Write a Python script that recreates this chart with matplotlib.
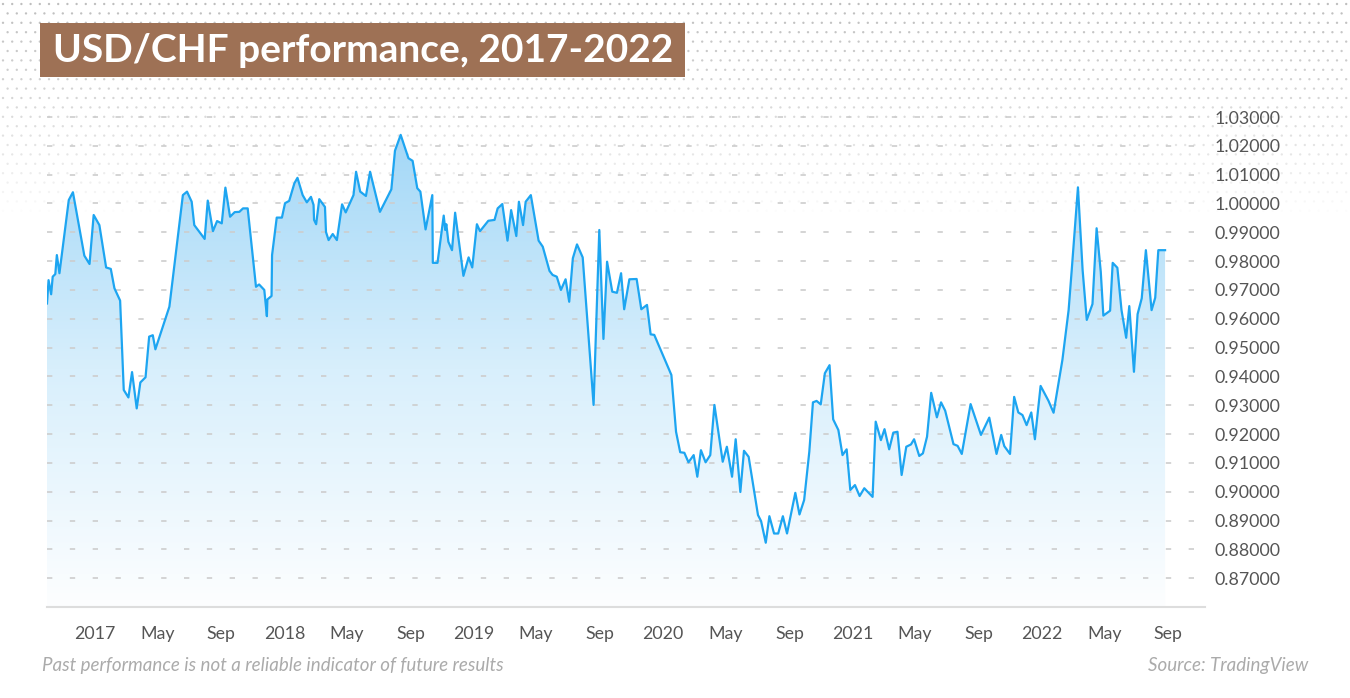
import matplotlib
matplotlib.use("Agg")
import matplotlib.pyplot as plt
import matplotlib.dates as mdates
from matplotlib.colors import LinearSegmentedColormap, to_rgba
from matplotlib.patches import Rectangle
import numpy as np
import pandas as pd

plt.rcParams['font.family'] = ['Lato', 'DejaVu Sans']

title = "USD/CHF performance, 2017-2022"
note = "Past performance is not a reliable indicator of future results"
source = "Source: TradingView"

dates = [
    "2016-09-30", "2016-10-03", "2016-10-08", "2016-10-11", "2016-10-16", "2016-10-19", "2016-10-24",
    "2016-11-11", "2016-11-19", "2016-12-11", "2016-12-21", "2016-12-29",
    "2017-01-09", "2017-01-22", "2017-01-31", "2017-02-07", "2017-02-18", "2017-02-25", "2017-03-06",
    "2017-03-13", "2017-03-22", "2017-03-29", "2017-04-08", "2017-04-15", "2017-04-22", "2017-04-27",
    "2017-05-24", "2017-06-19", "2017-06-27", "2017-07-06", "2017-07-11", "2017-07-31", "2017-08-06",
    "2017-08-16", "2017-08-24", "2017-09-02", "2017-09-09", "2017-09-18", "2017-09-27", "2017-10-06",
    "2017-10-13", "2017-10-22", "2017-11-07", "2017-11-13", "2017-11-23", "2017-11-28", "2017-11-29",
    "2017-12-07", "2017-12-08", "2017-12-17", "2017-12-27",
    "2018-01-02", "2018-01-10", "2018-01-20", "2018-01-26", "2018-02-05", "2018-02-13", "2018-02-21",
    "2018-02-26", "2018-02-27", "2018-03-03", "2018-03-09", "2018-03-20", "2018-03-22", "2018-03-27",
    "2018-04-04", "2018-04-12", "2018-04-22", "2018-04-29", "2018-05-14", "2018-05-19", "2018-05-27",
    "2018-06-07", "2018-06-15", "2018-07-04", "2018-07-26", "2018-08-02", "2018-08-13", "2018-08-28",
    "2018-09-05", "2018-09-14", "2018-09-20", "2018-09-30", "2018-10-13", "2018-10-14", "2018-10-23",
    "2018-11-04", "2018-11-07", "2018-11-09", "2018-11-13", "2018-11-20", "2018-11-26", "2018-12-12",
    "2018-12-22", "2018-12-29",
    "2019-01-07", "2019-01-13", "2019-01-29", "2019-02-10", "2019-02-16", "2019-02-25", "2019-03-07",
    "2019-03-14", "2019-03-24", "2019-03-29", "2019-04-06", "2019-04-11", "2019-04-21", "2019-05-06",
    "2019-05-14", "2019-05-27", "2019-06-02", "2019-06-10", "2019-06-18", "2019-06-27", "2019-07-04",
    "2019-07-11", "2019-07-19", "2019-07-30", "2019-08-20", "2019-08-31", "2019-09-08", "2019-09-15",
    "2019-09-25", "2019-10-04", "2019-10-12", "2019-10-18", "2019-10-28", "2019-11-11", "2019-11-20",
    "2019-12-01", "2019-12-08", "2019-12-15",
    "2020-01-17", "2020-01-26", "2020-02-03", "2020-02-11", "2020-02-19", "2020-02-29", "2020-03-07",
    "2020-03-14", "2020-03-23", "2020-04-01", "2020-04-09", "2020-04-25", "2020-05-03", "2020-05-13",
    "2020-05-20", "2020-05-29", "2020-06-05", "2020-06-14", "2020-07-02", "2020-07-08", "2020-07-17",
    "2020-07-24", "2020-08-02", "2020-08-10", "2020-08-19", "2020-08-27", "2020-09-12", "2020-09-20",
    "2020-09-29", "2020-10-09", "2020-10-16", "2020-10-23", "2020-10-31", "2020-11-08", "2020-11-17",
    "2020-11-24", "2020-12-04", "2020-12-12", "2020-12-20", "2020-12-27",
    "2021-01-05", "2021-01-14", "2021-01-23", "2021-02-08", "2021-02-14", "2021-02-24", "2021-03-03",
    "2021-03-12", "2021-03-20", "2021-03-28", "2021-04-05", "2021-04-14", "2021-04-23", "2021-04-29",
    "2021-05-09", "2021-05-16", "2021-05-24", "2021-06-01", "2021-06-12", "2021-06-20", "2021-06-28",
    "2021-07-14", "2021-07-22", "2021-07-30", "2021-08-16", "2021-09-05", "2021-09-21", "2021-10-05",
    "2021-10-14", "2021-10-20", "2021-10-31", "2021-11-08", "2021-11-16", "2021-11-24", "2021-12-02",
    "2021-12-11", "2021-12-18", "2021-12-29",
    "2022-01-13", "2022-01-23", "2022-02-09", "2022-02-21", "2022-02-27", "2022-03-11", "2022-03-20",
    "2022-03-28", "2022-04-08", "2022-04-16", "2022-04-24", "2022-04-29", "2022-05-12", "2022-05-17",
    "2022-05-26", "2022-06-03", "2022-06-12", "2022-06-18", "2022-06-27", "2022-07-04", "2022-07-12",
    "2022-07-20", "2022-07-31", "2022-08-07", "2022-08-13", "2022-08-26",
]

rates = [
    0.9653, 0.9734, 0.9685, 0.9746, 0.9755, 0.9821, 0.9758, 1.0012, 1.0039, 0.9819, 0.9790, 0.9960,
    # 2017
    0.9925, 0.9778, 0.9773, 0.9706, 0.9663, 0.9353, 0.9327, 0.9415, 0.9289, 0.9379,
    0.9397, 0.9538, 0.9543, 0.9494, 0.9642, 1.0029, 1.0041, 1.0006, 0.9925, 0.9877,
    1.0010, 0.9904, 0.9939, 0.9931, 1.0055, 0.9954, 0.9970, 0.9971, 0.9983, 0.9983,
    0.9711, 0.9719, 0.9700, 0.9609, 0.9667, 0.9679, 0.9821, 0.9951, 0.9951,
    # 2018
    1.0001, 1.0009, 1.0070, 1.0089, 1.0029, 1.0004, 1.0023, 0.9995, 0.9943, 0.9928,
    1.0015, 0.9988, 0.9901, 0.9873, 0.9894, 0.9873, 0.9997, 0.9969, 1.0029, 1.0110,
    1.0041, 1.0026, 1.0110, 0.9971, 1.0049, 1.0183, 1.0238, 1.0157, 1.0148, 1.0053,
    1.0041, 0.9910, 1.0029, 0.9794, 0.9794, 0.9958, 0.9908, 0.9928, 0.9867, 0.9838,
    0.9968, 0.9749, 0.9813, 0.9778,
    # 2019
    0.9928, 0.9904, 0.9940, 0.9943, 0.9983, 0.9998, 0.9871, 0.9977, 0.9887, 1.0006,
    0.9925, 1.0006, 1.0029, 0.9871, 0.9850, 0.9766, 0.9752, 0.9746, 0.9700, 0.9737,
    0.9659, 0.9810, 0.9858, 0.9813, 0.9301, 0.9908, 0.9530, 0.9798, 0.9694, 0.9690,
    0.9758, 0.9633, 0.9737, 0.9738, 0.9633, 0.9648, 0.9546, 0.9544,
    # 2020
    0.9405, 0.9208, 0.9137, 0.9135, 0.9102, 0.9127, 0.9052, 0.9144, 0.9102, 0.9127,
    0.9301, 0.9104, 0.9156, 0.9052, 0.9182, 0.8999, 0.9142, 0.9121, 0.8919, 0.8898,
    0.8823, 0.8915, 0.8855, 0.8855, 0.8915, 0.8855, 0.8996, 0.8921, 0.8971, 0.9139,
    0.9310, 0.9315, 0.9303, 0.9411, 0.9439, 0.9251, 0.9214, 0.9127, 0.9147, 0.9006,
    # 2021
    0.9023, 0.8985, 0.9012, 0.8982, 0.9243, 0.9179, 0.9217, 0.9147, 0.9205, 0.9208,
    0.9058, 0.9156, 0.9164, 0.9182, 0.9124, 0.9133, 0.9191, 0.9343, 0.9258, 0.9310,
    0.9281, 0.9165, 0.9159, 0.9131, 0.9304, 0.9197, 0.9257, 0.9131, 0.9197, 0.9158,
    0.9131, 0.9329, 0.9275, 0.9266, 0.9231, 0.9275, 0.9182, 0.9367,
    # 2022
    0.9316, 0.9274, 0.9457, 0.9630, 0.9769, 1.0056, 0.9769, 0.9596, 0.9651, 0.9914,
    0.9763, 0.9611, 0.9628, 0.9794, 0.9777, 0.9630, 0.9534, 0.9644, 0.9416, 0.9616,
    0.9671, 0.9838, 0.9630, 0.9673, 0.9838, 0.9838,
]

yticks = [0.87, 0.88, 0.89, 0.90, 0.91, 0.92, 0.93, 0.94, 0.95, 0.96,
          0.97, 0.98, 0.99, 1.00, 1.01, 1.02, 1.03]
xtick_dates = ["2017-01-01", "2017-05-01", "2017-09-01", "2018-01-01", "2018-05-01", "2018-09-01",
               "2019-01-01", "2019-05-01", "2019-09-01", "2020-01-01", "2020-05-01", "2020-09-01",
               "2021-01-01", "2021-05-01", "2021-09-01", "2022-01-01", "2022-05-01", "2022-09-01"]
xtick_labels = ["2017", "May", "Sep", "2018", "May", "Sep", "2019", "May", "Sep",
                "2020", "May", "Sep", "2021", "May", "Sep", "2022", "May", "Sep"]

W, H = 1350, 698
fig = plt.figure(figsize=(W / 100, H / 100), dpi=100)
fig.patch.set_facecolor("white")

# dotted texture at the top, fading downwards
bg = fig.add_axes([0, 0, 1, 1])
bg.set_xlim(0, W)
bg.set_ylim(H, 0)
bg.axis("off")
dx, dy = [], []
dcol = []
base = np.array(to_rgba("#bdbdbd"))
for i, yy in enumerate(np.arange(4, 215, 9.4)):
    off = 4.6 if i % 2 else 0.0
    fade = max(0.0, 1 - yy / 215) ** 0.8
    for xx in np.arange(3 + off, W, 9.2):
        dx.append(xx)
        dy.append(yy)
        c = base.copy()
        c[3] = fade
        dcol.append(c)
bg.scatter(dx, dy, s=2.8, c=dcol, linewidths=0)

# title box
bg.add_patch(Rectangle((40, 23), 645, 54, facecolor="#9e7155", edgecolor="none"))
bg.text(363, 51, title, color="white", fontsize=28, fontweight="bold",
        ha="center", va="center")

ax = fig.add_axes([47 / W, 1 - 607 / H, (1205 - 47) / W, (607 - 100) / H])
ax.patch.set_alpha(0)

x = pd.to_datetime(dates)
xn = mdates.date2num(x)
ymin, ymax = 0.86, 1.0359

poly = ax.fill_between(x, rates, ymin, facecolor="none", edgecolor="none")
grad = np.linspace(0, 1, 256).reshape(-1, 1)
cmap = LinearSegmentedColormap.from_list("fillgrad", ["#fdfeff", "#d8effc", "#a2d7f7"])
im = ax.imshow(grad, extent=[xn[0], xn[-1], ymin, 1.025], origin="lower",
               aspect="auto", cmap=cmap, zorder=0.5, interpolation="bilinear")
im.set_clip_path(poly.get_paths()[0], transform=ax.transData)

ax.plot(x, rates, color="#1da5f1", lw=1.6, zorder=3)

ax.set_xlim(xn[0], mdates.date2num(pd.Timestamp("2022-11-11")))
ax.set_ylim(ymin, ymax)

ax.set_yticks(yticks)
ax.set_yticklabels([f"{v:.5f}" for v in yticks])
ax.yaxis.tick_right()
ax.set_xticks(mdates.date2num(pd.to_datetime(xtick_dates)))
ax.set_xticklabels(xtick_labels)
ax.tick_params(axis="y", length=0, pad=7, labelsize=12.8, labelcolor="#555555")
ax.tick_params(axis="x", length=0, pad=14, labelsize=12.8, labelcolor="#555555")

ax.set_axisbelow("line")
ax.yaxis.grid(True, color="#cdcdcd", lw=1.2, linestyle=(0, (3.2, 10.5)))
ax.xaxis.grid(False)
for s in ["top", "left", "right"]:
    ax.spines[s].set_visible(False)
ax.spines["bottom"].set_color("#dddddd")
ax.spines["bottom"].set_linewidth(1.5)

fig.text(42 / W, 1 - 665 / H, note, color="#ababab", fontsize=13.5, style="italic",
         va="center")
fig.text(1308 / W, 1 - 665 / H, source, color="#ababab", fontsize=13.5, style="italic",
         va="center", ha="right")

fig.savefig("out.png", dpi=100, facecolor="white")
